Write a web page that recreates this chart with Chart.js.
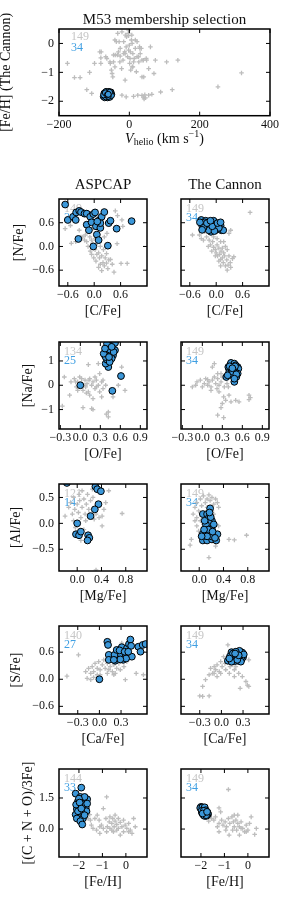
<!DOCTYPE html>
<html>
<head>
<meta charset="utf-8">
<script src="https://cdn.jsdelivr.net/npm/chart.js@4.4.1/dist/chart.umd.min.js"></script>
<style>
  body { margin: 0; background: #fff; }
  #wrap { position: relative; width: 291px; height: 912px; }
  #wrap canvas { position: absolute; left: 0; top: 0; }
</style>
</head>
<body>
<div id="wrap"></div>
<script>
// ---- top panel: [Fe/H] (The Cannon) vs V_helio ----
const topXTicks = [-200, 0, 200, 400];
const topYTicks = [-2, -1, 0];
const topGray = [[-176,-0.69],[-156,-1.18],[-140,-1.18],[-113,-1.0],[-121,-1.6],[-107,-1.73],[-99,-0.69],[-80,-0.29],[-81,-0.69],[-81,-0.5],[-64,-0.52],[-54,-0.69],[-51,-0.92],[-49,-1.04],[-47,-1.16],[-40,-0.4],[-33,0.35],[-26,-0.17],[-21,0.4],[-18,-0.58],[-16,0.06],[-13,-0.29],[-11,0.29],[-9,-0.12],[-5,-0.46],[-2,0.27],[-2,-0.23],[1,-0.69],[3,-0.29],[6,0.12],[8,-0.81],[10,-0.35],[14,-0.52],[17,-0.17],[20,-0.98],[22,-0.46],[27,-0.64],[30,-0.17],[31,-0.35],[36,-0.58],[41,-1.16],[49,-0.58],[55,-0.87],[60,-0.12],[70,-1.04],[74,-0.58],[106,-0.64],[138,-0.58],[89,-1.68],[122,-1.6],[24,-1.79],[36,-1.8],[40,-1.86],[44,-1.78],[46,-1.88],[42,-1.92],[55,-1.79],[64,-1.76],[-21,-1.79],[-9,-1.85],[12,-1.83],[252,-1.5],[319,-1.02],[-37,0.06],[-31,-0.29],[8,0],[-26,-0.44],[-16,-0.35],[-45,-0.64],[34,-0.17],[17,0.12],[-2,0.46],[-41,0.12],[-29,0.06],[7,0.29],[22,0.06],[29,-0.12],[-12,-0.35],[10,-0.81],[4,-0.92],[-3,0.35],[-8,0.23],[0,-0.06],[2,-0.52],[12,-0.64],[26,-0.46],[40,-0.58],[48,-0.52],[-27,-0.64],[-22,-0.87],[-34,-0.4],[-41,-0.81],[-45,-0.4],[-55,-0.64],[-67,-0.46],[-12,-1.27],[36,-1.16],[-84,-0.29]];
const topBlue = [[-72,-1.72],[-70,-1.8],[-68,-1.68],[-66,-1.76],[-64,-1.84],[-62,-1.7],[-60,-1.78],[-58,-1.86],[-56,-1.74],[-54,-1.82],[-52,-1.68],[-50,-1.76],[-74,-1.84],[-70,-1.88],[-66,-1.66],[-62,-1.88],[-58,-1.66],[-54,-1.72],[-65,-1.8],[-61,-1.74],[-57,-1.8],[-69,-1.75],[-63,-1.79],[-59,-1.71],[-67,-1.85],[-55,-1.86],[-73,-1.78],[-51,-1.8],[-64,-1.73],[-60,-1.83],[-56,-1.69],[-68,-1.71],[-62,-1.77],[-60,-1.76]];

// ---- row 1: [N/Fe] vs [C/Fe] ----
const cnTicks = [-0.6, 0, 0.6];
const cnLeftGray = [[-0.66,0.45],[-0.54,0.53],[-0.52,0.08],[-0.42,0.12],[-0.3,0.24],[-0.22,0.16],[-0.2,0.29],[-0.17,0.12],[-0.14,0],[-0.1,0.24],[-0.09,-0.12],[-0.06,-0.2],[-0.04,0.08],[-0.01,-0.29],[0.02,-0.08],[0.04,-0.37],[0.06,-0.2],[0.1,-0.16],[0.12,-0.29],[0.14,-0.45],[0.17,-0.24],[0.2,-0.41],[0.23,-0.49],[0.28,-0.42],[0.31,-0.56],[0.37,-0.33],[0.41,-0.45],[0.45,-0.65],[0.52,0.07],[0.61,-0.43],[0.75,-0.43],[0.48,0.9],[0.53,0.78],[0.63,0.67],[0.65,0.51],[-0.02,0.47],[0.23,0.24],[0.29,0.33],[-0.06,0.16],[0.14,0],[0.02,0.2],[0.07,0.08],[0.21,-0.08],[0.28,-0.18],[-0.26,0.24],[-0.34,0.41],[0.17,-0.61],[0.1,-0.53],[0.33,-0.34],[0.25,-0.29]];
const cnLeftBlue = [[-0.66,1.06],[-0.6,0.67],[-0.48,0.75],[-0.42,0.67],[-0.41,0.86],[-0.34,0.9],[-0.3,0.87],[-0.36,0.19],[-0.22,0.83],[-0.17,0.83],[-0.17,0.55],[-0.12,0.41],[-0.09,0.75],[-0.06,0.61],[-0.02,0.82],[0.02,0.86],[0.04,0.51],[0.06,0.3],[-0.02,0],[0.1,0.16],[0.14,0.47],[0.12,0.67],[0.17,0.75],[0.23,0.87],[0.33,0.59],[0.37,0.65],[0.31,0.02],[0.51,0.45],[0.85,0.64],[0.14,0.59],[0.07,0.63]];
const cnRightGray = [[0.77,0.86],[-0.38,0.29],[-0.29,0.16],[-0.22,0.24],[-0.16,0.16],[-0.13,0.04],[-0.08,0.12],[-0.06,-0.02],[-0.02,-0.08],[0,-0.16],[0.02,0.04],[0.03,-0.24],[0.06,-0.04],[0.08,-0.2],[0.1,-0.33],[0.11,-0.12],[0.14,-0.29],[0.16,-0.41],[0.19,-0.24],[0.21,-0.49],[0.24,-0.34],[0.27,-0.47],[0.32,-0.41],[0.33,-0.53],[0.37,-0.31],[0.4,-0.26],[0.25,-0.6],[0.29,0.33],[0.33,0.41],[-0.06,0.24],[0.02,0.2],[0.1,0.12],[-0.18,0],[-0.1,-0.12],[-0.02,-0.24],[0.06,-0.37],[0.14,-0.04],[0.17,-0.16],[0.21,0],[-0.54,0.29],[-0.26,0.37],[-0.34,0.2],[0.17,0.12],[0.25,-0.08],[0.1,-0.49],[0.29,-0.24]];
const cnRightBlue = [[-0.34,0.67],[-0.29,0.59],[-0.24,0.65],[-0.21,0.56],[-0.16,0.61],[-0.13,0.51],[-0.08,0.59],[-0.05,0.47],[-0.02,0.57],[0.02,0.51],[-0.1,0.45],[-0.18,0.45],[-0.26,0.47],[-0.32,0.53],[0.1,0.53],[0.12,0.41],[0.16,0.41],[-0.12,0.37],[-0.22,0.51],[-0.06,0.65],[0,0.42],[-0.14,0.57],[-0.26,0.61],[0.06,0.47],[-0.37,0.61],[-0.17,0.41],[-0.04,0.39],[-0.29,0.47],[-0.09,0.51],[-0.21,0.59],[0.03,0.59],[-0.32,0.42],[0.1,0.61],[-0.13,0.65]];

// ---- row 2: [Na/Fe] vs [O/Fe] ----
const naoXTicks = [-0.3, 0, 0.3, 0.6, 0.9];
const naoYTicks = [-1, 0, 1];
const naoLeftGray = [[-0.27,-0.86],[-0.24,0.34],[-0.16,-0.41],[-0.14,0.14],[-0.09,0.27],[-0.06,-0.07],[-0.04,0.14],[-0.01,0.34],[0.02,0.07],[0.04,-0.21],[0.07,0.21],[0.08,-0.07],[0.1,0.07],[0.12,-0.27],[0.14,0.27],[0.17,0],[0.19,0.14],[0.22,-0.14],[0.24,0.21],[0.27,0],[0.29,0.48],[0.32,0.14],[0.34,-0.14],[0.14,-0.41],[0.19,-0.55],[0.09,-0.32],[0.19,-1.0],[0.17,-0.96],[0.04,-0.92],[0.42,-1.1],[0.42,-1.3],[0.39,-1.19],[0.49,-0.48],[0.32,-0.48],[0.27,0.89],[0.12,0.85],[0.62,0.75],[0.67,-0.21],[0.57,0],[-0.07,0.14],[0.02,0.27],[0.24,-0.07],[0.29,-0.27],[0.22,0.34],[0.34,0.21],[0.38,0],[0.07,0],[0.13,0.21],[-0.04,-0.21]];
const naoLeftBlue = [[0,0],[0.48,-0.23],[0.61,0.38],[0.42,0.75],[0.38,0.89],[0.37,1.23],[0.4,1.05],[0.43,1.3],[0.39,1.44],[0.42,1.64],[0.45,1.71],[0.49,1.68],[0.52,1.44],[0.49,1.23],[0.47,1.1],[0.44,1.47],[0.52,1.74],[0.38,1.16],[0.35,1.3],[0.4,1.71],[0.44,0.96],[0.5,1.37],[0.47,1.58],[0.43,1.16],[0.37,1.51]];
const naoRightGray = [[-0.15,-0.07],[-0.08,0.14],[-0.03,0.21],[0.03,0.07],[0.05,0.27],[0.08,0],[0.1,0.14],[0.13,-0.07],[0.15,0.21],[0.18,0.34],[0.2,0.07],[0.23,0.27],[0.25,0],[0.28,0.14],[0.3,0.34],[0.33,-0.07],[0.18,0.89],[0.15,0.75],[0.32,-0.48],[0.3,-0.75],[0.28,-0.92],[0.35,-0.62],[0.4,-0.41],[0.43,-0.68],[0.5,-0.62],[0.55,-0.68],[0.7,-0.41],[0.72,-0.51],[0.7,-0.59],[0.23,-1.23],[0.32,-1.33],[0.13,-0.21],[0.22,-0.14],[0.25,-0.27],[0,-0.07],[-0.1,0],[0.08,0.23],[0.37,0.07],[0.39,-0.07],[0.28,0.48],[0.23,0.48]];
const naoRightBlue = [[0.36,0.34],[0.42,0.85],[0.44,0.75],[0.4,0.68],[0.45,0.62],[0.48,0.75],[0.5,0.68],[0.52,0.62],[0.53,0.75],[0.47,0.48],[0.49,0.34],[0.48,0.14],[0.51,0.34],[0.44,0.48],[0.42,0.62],[0.45,0.82],[0.39,0.75],[0.43,0.92],[0.48,0.89],[0.5,0.82],[0.54,0.68],[0.4,0.51],[0.45,0.41],[0.49,0.55],[0.53,0.48],[0.47,0.68],[0.44,0.58],[0.38,0.41],[0.41,0.78],[0.49,0.78],[0.46,0.55],[0.51,0.45],[0.45,0.7],[0.48,0.27]];

// ---- row 3: [Al/Fe] vs [Mg/Fe] ----
const almgXTicks = [0, 0.4, 0.8];
const almgYTicks = [-0.5, 0, 0.5];
const almgLeftGray = [[-0.2,0.14],[-0.14,0.31],[-0.11,0.4],[-0.06,0.5],[-0.08,0.18],[-0.04,0.27],[0,0.37],[0.02,0.21],[0.04,0.44],[0.06,0.11],[0.08,0.31],[0.11,0.47],[0.13,0.18],[0.15,0.37],[0.17,0.56],[0.19,0.27],[0.22,0.44],[0.25,0.66],[0.26,0.5],[0.28,0.08],[0.31,0.18],[0.36,0.11],[0.41,-0.05],[0.47,0.4],[0.52,0.63],[0.44,0.27],[0.74,0.19],[0.06,-0.33],[0.11,-0.12],[-0.03,-0.08],[0.31,-0.9],[0.08,0.63],[0.03,0.56],[0.14,0.05],[-0.06,0.05],[0.41,0.14],[0.36,0.34],[0.2,0.18]];
const almgLeftBlue = [[-0.17,0.78],[0.3,0.71],[0.33,0.66],[0.39,0.62],[0.35,0.37],[0.29,0.27],[0.22,0.14],[0,0],[-0.02,-0.21],[0.03,-0.23],[0.06,-0.16],[0.18,-0.23],[0.2,-0.28],[0.17,-0.33]];
const almgRightGray = [[-0.13,-0.31],[-0.15,-0.42],[-0.1,0.18],[-0.07,0.31],[-0.04,0.4],[-0.01,0.24],[0.02,0.47],[0.04,0.34],[0.07,0.53],[0.1,0.4],[0.13,0.47],[0.16,0.55],[0.18,0.44],[0.21,0.5],[0.24,0.37],[0.27,0.47],[0.3,0.4],[-0.04,0.11],[0.02,0.05],[-0.04,-0.05],[-0.01,-0.15],[0.27,-0.44],[0.32,-0.05],[0.49,-0.31],[0.58,-0.32],[0.78,-0.23],[0.16,-0.66],[0.21,0.24],[0.13,0.31],[0.04,0.14],[0.07,-0.02],[-0.07,0.05],[0.32,0.31],[0.24,0.18]];
const almgRightBlue = [[0.06,0.18],[0.13,0.18],[0.18,0.29],[0.16,0.11],[0.21,0.05],[0.18,-0.05],[0.13,-0.08],[0.1,-0.15],[0.06,-0.2],[0.07,-0.28],[0.06,-0.33],[0.13,-0.33],[0.17,-0.25],[0.18,-0.18],[0.21,-0.31],[0.24,-0.21],[0.3,-0.21],[0.28,-0.33],[0.21,-0.12],[0.15,-0.18],[0.1,-0.24],[0.16,0.01],[0.19,0.12],[0.11,-0.02],[0.24,-0.02],[0.2,-0.25],[0.13,-0.25],[0.09,0.05],[0.17,0.21],[0.26,-0.28],[0.04,-0.25],[0.15,-0.12],[0.22,-0.16],[0.08,-0.12]];

// ---- row 4: [S/Fe] vs [Ca/Fe] ----
const scaXTicks = [-0.3, 0, 0.3];
const scaYTicks = [-0.6, 0, 0.6];
const scaLeftGray = [[-0.45,0.07],[-0.29,0.54],[-0.19,0.17],[-0.17,0.02],[-0.15,0.24],[-0.12,0.13],[-0.1,0.28],[-0.08,0.17],[-0.06,0.35],[-0.03,0.24],[-0.01,0.39],[0.01,0.21],[0.04,0.32],[0.06,0.43],[0.08,0.24],[0.11,0.35],[0.13,0.21],[0.15,0.28],[0.18,0.17],[0.2,0.32],[0.22,0.13],[0.24,0.24],[0.27,0.35],[0.29,0.21],[0.31,0.8],[0.34,0.28],[0.38,0.39],[0.36,-0.01],[0.51,0.13],[0.61,0.1],[-0.03,0.1],[-0.08,0.04],[-0.12,-0.01],[0.01,0.1],[0.11,0.13],[0.2,0.1]];
const scaLeftBlue = [[0,0],[0.11,0.83],[0.12,0.76],[0.13,0.54],[0.13,0.43],[0.21,0.54],[0.22,0.41],[0.24,0.65],[0.3,0.54],[0.31,0.71],[0.33,0.43],[0.36,0.57],[0.38,0.68],[0.41,0.78],[0.43,0.88],[0.44,0.74],[0.45,0.5],[0.37,0.46],[0.29,0.44],[0.2,0.43],[0.28,0.64],[0.35,0.61],[0.54,0.72],[0.57,0.61],[0.6,0.76],[0.64,0.78],[0.4,0.61]];
const scaRightGray = [[-0.3,-0.37],[-0.26,-0.16],[-0.26,-0.38],[-0.17,-0.37],[-0.22,-0.01],[-0.17,0.1],[-0.15,0.24],[-0.12,0.13],[-0.1,0.28],[-0.08,0.21],[-0.06,0.32],[-0.03,0.17],[-0.01,0.39],[0.01,0.28],[0.03,0.5],[0.05,0.35],[0.07,0.46],[0.09,0.76],[0.12,0.28],[0.15,0.32],[0.18,0.21],[0.2,0.28],[0.24,0.13],[0.29,0.06],[0.34,-0.05],[0.36,-0.13],[0.38,0.43],[0.26,-0.2],[0.38,-0.16],[-0.1,0.13],[-0.06,0.06],[-0.01,0.13],[0.06,0.21],[0.11,0.13],[0.18,0.06]];
const scaRightBlue = [[0.09,0.41],[0.14,0.6],[0.16,0.54],[0.18,0.59],[0.2,0.55],[0.22,0.6],[0.24,0.57],[0.27,0.6],[0.29,0.54],[0.3,0.49],[0.28,0.44],[0.23,0.41],[0.24,0.5],[0.2,0.46],[0.17,0.43],[0.13,0.44],[0.19,0.5],[0.21,0.51],[0.25,0.51],[0.15,0.49],[0.23,0.47],[0.18,0.4],[0.29,0.59],[0.12,0.51],[0.25,0.63],[0.2,0.61],[0.31,0.55],[0.14,0.39],[0.27,0.39],[0.22,0.43],[0.16,0.57],[0.24,0.53],[0.19,0.57],[0.11,0.46]];

// ---- row 5: [(C+N+O)/3Fe] vs [Fe/H] ----
const cnoXTicks = [-2, -1, 0];
const cnoYTicks = [0, 1.5];
const cnoLeftGray = [[-1.61,0.51],[-1.51,0.43],[-1.54,0.7],[-1.47,0.19],[-1.32,0.51],[-1.22,0.67],[-1.14,0.43],[-1.11,0.11],[-1.04,0.19],[-0.96,0.99],[-0.82,1.55],[-0.85,0.51],[-0.79,0.11],[-0.71,0.35],[-0.68,0.59],[-0.6,0.27],[-0.56,0.51],[-0.5,0.11],[-0.46,0.38],[-0.39,0.22],[-0.32,0.03],[-0.24,0.32],[-0.17,0.11],[-0.1,-0.13],[-0.03,0.19],[0.04,0.03],[0.12,0.27],[0.19,-0.05],[0.33,0.51],[0.4,0.11],[0.26,-0.21],[-0.24,-0.29],[-0.53,-0.13],[-0.82,-0.13],[-1.11,-0.21],[-1.4,0.03],[-1.25,-0.05],[-0.96,0.03],[-0.68,0.03],[-0.46,0.67],[-0.32,0.51],[-0.1,0.43],[0.12,-0.13],[-0.39,-0.05],[-0.6,-0.05]];
const cnoLeftBlue = [[-1.9,2.0],[-2.14,1.71],[-1.94,1.55],[-1.83,1.47],[-1.65,1.44],[-2.04,1.34],[-1.9,1.28],[-1.76,1.23],[-2.0,1.12],[-1.86,1.07],[-1.71,1.02],[-2.09,0.96],[-1.94,0.91],[-1.8,0.86],[-2.01,0.75],[-1.86,0.7],[-2.14,0.7],[-1.97,0.59],[-2.09,0.51],[-1.83,0.51],[-1.94,0.38],[-1.86,0.22],[-1.68,0.86],[-1.76,1.55],[-2.0,1.47],[-2.12,1.18],[-1.83,1.15],[-1.65,1.23],[-1.9,0.83],[-2.04,0.86],[-1.97,1.28],[-1.76,0.67],[-1.9,0.99]];
const cnoRightGray = [[-0.83,1.91],[-1.23,1.02],[-1.16,0.83],[-1.67,0.38],[-1.55,0.51],[-1.45,0.43],[-1.38,0.59],[-1.3,0.11],[-1.23,0.27],[-1.12,0.43],[-1.06,0.19],[-0.97,0.35],[-0.91,0.11],[-0.83,0.51],[-0.77,0.27],[-0.68,0.59],[-0.62,0.35],[-0.58,0.11],[-0.51,0.43],[-0.48,-0.05],[-0.43,0.27],[-0.36,0.11],[-0.29,0.35],[-0.22,0.03],[-0.14,-0.13],[-0.07,0.19],[0,-0.05],[0.07,0.27],[0.14,0.59],[0.29,-0.26],[0.36,0.03],[-1.23,-0.13],[-0.8,-0.29],[-0.36,-0.29],[-0.65,-0.05],[-0.94,-0.05],[-0.43,0.67],[-0.58,0.67],[-0.29,0.03],[-0.07,-0.13]];
const cnoRightBlue = [[-2.0,1.07],[-1.93,0.99],[-1.88,1.02],[-1.96,0.91],[-1.86,0.91],[-1.93,0.83],[-1.81,0.83],[-1.88,0.75],[-1.78,0.75],[-1.83,0.67],[-1.74,0.7],[-1.81,0.64],[-1.99,0.99],[-1.9,0.94],[-1.84,0.96],[-1.96,0.8],[-1.87,0.83],[-1.77,0.86],[-1.91,0.7],[-1.81,0.73],[-1.72,0.8],[-1.86,0.64],[-1.76,0.64],[-1.7,0.7],[-2.03,1.02],[-1.94,1.05],[-1.84,1.05],[-1.97,0.88],[-1.8,0.91],[-1.71,0.75],[-1.88,0.88],[-1.78,0.67],[-1.93,0.75],[-1.74,0.83]];

const FONT = '"Liberation Serif", "DejaVu Serif", serif';
const INK = '#111';
const GRAY = '#bdbdbd';
const BLUE = '#3b97d9';

function fmt(dec) {
  return v => (v < -1e-9 ? '\u2212' : '') + Math.abs(v).toFixed(dec);
}

// frame, inward ticks, sample counts and titles (matplotlib look)
const framePlugin = {
  id: 'frame',
  beforeDatasetsDraw(chart, args, o) {
    const a = chart.chartArea, c = chart.ctx;
    c.save();
    c.font = '12px ' + FONT;
    c.textAlign = 'left';
    c.textBaseline = 'middle';
    c.fillStyle = '#c6c6c6';
    c.fillText(o.counts[0], a.left + o.cx, a.top + o.cy0);
    c.fillStyle = '#3f9fe2';
    c.fillText(o.counts[1], a.left + o.cx, a.top + o.cy1);
    c.restore();
  },
  afterDatasetsDraw(chart) {
    const a = chart.chartArea, c = chart.ctx;
    const xs = chart.scales.x, ys = chart.scales.y;
    c.save();
    c.strokeStyle = '#000';
    c.lineWidth = 1;
    c.beginPath();
    xs.ticks.forEach(t => {
      const p = xs.getPixelForValue(t.value);
      c.moveTo(p, a.bottom); c.lineTo(p, a.bottom - 4);
      c.moveTo(p, a.top); c.lineTo(p, a.top + 4);
    });
    ys.ticks.forEach(t => {
      const p = ys.getPixelForValue(t.value);
      c.moveTo(a.left, p); c.lineTo(a.left + 4, p);
      c.moveTo(a.right, p); c.lineTo(a.right - 4, p);
    });
    c.stroke();
    c.lineWidth = 1.5;
    c.strokeRect(a.left, a.top, a.right - a.left, a.bottom - a.top);
    c.restore();
  },
  afterDraw(chart, args, o) {
    const a = chart.chartArea, c = chart.ctx;
    c.save();
    c.fillStyle = INK;
    c.textBaseline = 'middle';
    if (o.title) {
      c.font = '15px ' + FONT;
      c.textAlign = 'center';
      c.fillText(o.title, (a.left + a.right) / 2, a.top - o.titleGap);
    }
    if (o.vlabel) {
      // V_helio (km s^-1)
      const parts = [
        ['italic 14px ' + FONT, 'V', 0],
        ['10px ' + FONT, 'helio', 3],
        ['14px ' + FONT, ' (km s', 0],
        ['10px ' + FONT, '\u22121', -5],
        ['14px ' + FONT, ')', 0]
      ];
      let w = 0;
      parts.forEach(p => { c.font = p[0]; w += c.measureText(p[1]).width; });
      let x = (a.left + a.right) / 2 - w / 2;
      const y = a.bottom + 24;
      c.textAlign = 'left';
      parts.forEach(p => { c.font = p[0]; c.fillText(p[1], x, y + p[2]); x += c.measureText(p[1]).width; });
    }
    c.restore();
  }
};

const wrap = document.getElementById('wrap');

function makePanel(p) {
  const cv = document.createElement('canvas');
  cv.width = 291;
  cv.height = 912;
  wrap.appendChild(cv);
  const [l, t, r, b] = p.box;
  const hx = 34;
  new Chart(cv, {
    type: 'scatter',
    data: {
      datasets: [
        { data: p.blue.map(d => ({ x: d[0], y: d[1] })), order: 0, clip: 0,
          pointStyle: 'circle', pointRadius: p.br, backgroundColor: BLUE, borderColor: '#000', borderWidth: 1 },
        { data: p.gray.map(d => ({ x: d[0], y: d[1] })), order: 1, clip: 0,
          pointStyle: 'cross', pointRadius: 2.3, backgroundColor: GRAY, borderColor: GRAY, borderWidth: 1.3 }
      ]
    },
    options: {
      responsive: false,
      animation: false,
      events: [],
      layout: { padding: { left: l - p.wy, top: t, right: 291 - r, bottom: 912 - b - hx } },
      plugins: {
        legend: { display: false },
        tooltip: { enabled: false },
        frame: { counts: p.counts, cx: p.cx, cy0: p.cy0, cy1: p.cy1, title: p.title, titleGap: p.titleGap, vlabel: p.vlabel }
      },
      scales: {
        x: {
          type: 'linear', min: p.xlim[0], max: p.xlim[1], bounds: 'data',
          afterBuildTicks: s => { s.ticks = p.xticks.map(v => ({ value: v })); },
          afterFit: s => { s.height = hx; },
          grid: { display: false, drawTicks: false },
          border: { display: false },
          ticks: { autoSkip: false, maxRotation: 0, minRotation: 0, padding: 1.5, color: INK,
                   font: { family: FONT, size: 12 }, callback: fmt(p.xdec) },
          title: { display: !!p.xlabel, text: p.xlabel || '', color: INK,
                   font: { family: FONT, size: 14 }, padding: { top: 0, bottom: 0 } }
        },
        y: {
          type: 'linear', min: p.ylim[0], max: p.ylim[1], bounds: 'data',
          afterBuildTicks: s => { s.ticks = p.yticks.map(v => ({ value: v })); },
          afterFit: s => { s.width = p.wy; },
          grid: { display: false, drawTicks: false },
          border: { display: false },
          ticks: { display: p.showY, autoSkip: false, padding: 5, color: INK,
                   font: { family: FONT, size: 12 }, callback: fmt(p.ydec) },
          title: { display: !!p.ylabel, text: p.ylabel || '', color: INK,
                   font: { family: FONT, size: 14 }, padding: { top: p.ylabelPad || 0, bottom: 0 } }
        }
      }
    },
    plugins: [framePlugin]
  });
}

// top panel
makePanel({ box: [59, 29, 270, 115.7], xlim: [-200, 400], ylim: [-2.5, 0.5],
  xticks: topXTicks, yticks: topYTicks, xdec: 0, ydec: 0, wy: 59, showY: true,
  ylabel: '[Fe/H] (The Cannon)', ylabelPad: -2.4, vlabel: true,
  title: 'M53 membership selection', titleGap: 9,
  gray: topGray, blue: topBlue, br: 3, counts: ['149', '34'], cx: 12, cy0: 8, cy1: 19 });

const rowTop = [199, 342, 484, 626, 769];
const rowBottom = [286, 429, 571, 714, 857];
const rows = [
  { xlim: [-0.8, 1.2], ylim: [-1.0, 1.2], xticks: cnTicks, yticks: cnTicks, xdec: 1, ydec: 1,
    xlabel: '[C/Fe]', ylabel: '[N/Fe]', ylabelPad: 10.6,
    L: [cnLeftGray, cnLeftBlue, ['149', '31']], R: [cnRightGray, cnRightBlue, ['149', '34']] },
  { xlim: [-0.32, 1.0], ylim: [-1.8, 1.78], xticks: naoXTicks, yticks: naoYTicks, xdec: 1, ydec: 0,
    xlabel: '[O/Fe]', ylabel: '[Na/Fe]', ylabelPad: 19.6,
    L: [naoLeftGray, naoLeftBlue, ['134', '25']], R: [naoRightGray, naoRightBlue, ['149', '34']] },
  { xlim: [-0.3, 1.15], ylim: [-0.92, 0.76], xticks: almgXTicks, yticks: almgYTicks, xdec: 1, ydec: 1,
    xlabel: '[Mg/Fe]', ylabel: '[Al/Fe]', ylabelPad: 7.6,
    L: [almgLeftGray, almgLeftBlue, ['121', '14']], R: [almgRightGray, almgRightBlue, ['149', '34']] },
  { xlim: [-0.56, 0.66], ylim: [-0.77, 1.18], xticks: scaXTicks, yticks: scaYTicks, xdec: 1, ydec: 1,
    xlabel: '[Ca/Fe]', ylabel: '[S/Fe]', ylabelPad: 7.6,
    L: [scaLeftGray, scaLeftBlue, ['140', '27']], R: [scaRightGray, scaRightBlue, ['149', '34']] },
  { xlim: [-2.85, 0.9], ylim: [-1.35, 2.9], xticks: cnoXTicks, yticks: cnoYTicks, xdec: 0, ydec: 1,
    xlabel: '[Fe/H]', ylabel: '[(C + N + O)/3Fe]', ylabelPad: 19.6,
    L: [cnoLeftGray, cnoLeftBlue, ['144', '33']], R: [cnoRightGray, cnoRightBlue, ['149', '34']] }
];

rows.forEach((row, i) => {
  const common = { xlim: row.xlim, ylim: row.ylim, xticks: row.xticks, yticks: row.yticks,
    xdec: row.xdec, ydec: row.ydec, xlabel: row.xlabel, br: 3.4, cx: 5, cy0: 10, cy1: 19, titleGap: 14 };
  makePanel(Object.assign({}, common, {
    box: [59, rowTop[i], 147, rowBottom[i]], wy: 59, showY: true,
    ylabel: row.ylabel, ylabelPad: row.ylabelPad, title: i === 0 ? 'ASPCAP' : null,
    gray: row.L[0], blue: row.L[1], counts: row.L[2] }));
  makePanel(Object.assign({}, common, {
    box: [181, rowTop[i], 269, rowBottom[i]], wy: 30, showY: false,
    ylabel: null, title: i === 0 ? 'The Cannon' : null,
    gray: row.R[0], blue: row.R[1], counts: row.R[2] }));
});
</script>
</body>
</html>
